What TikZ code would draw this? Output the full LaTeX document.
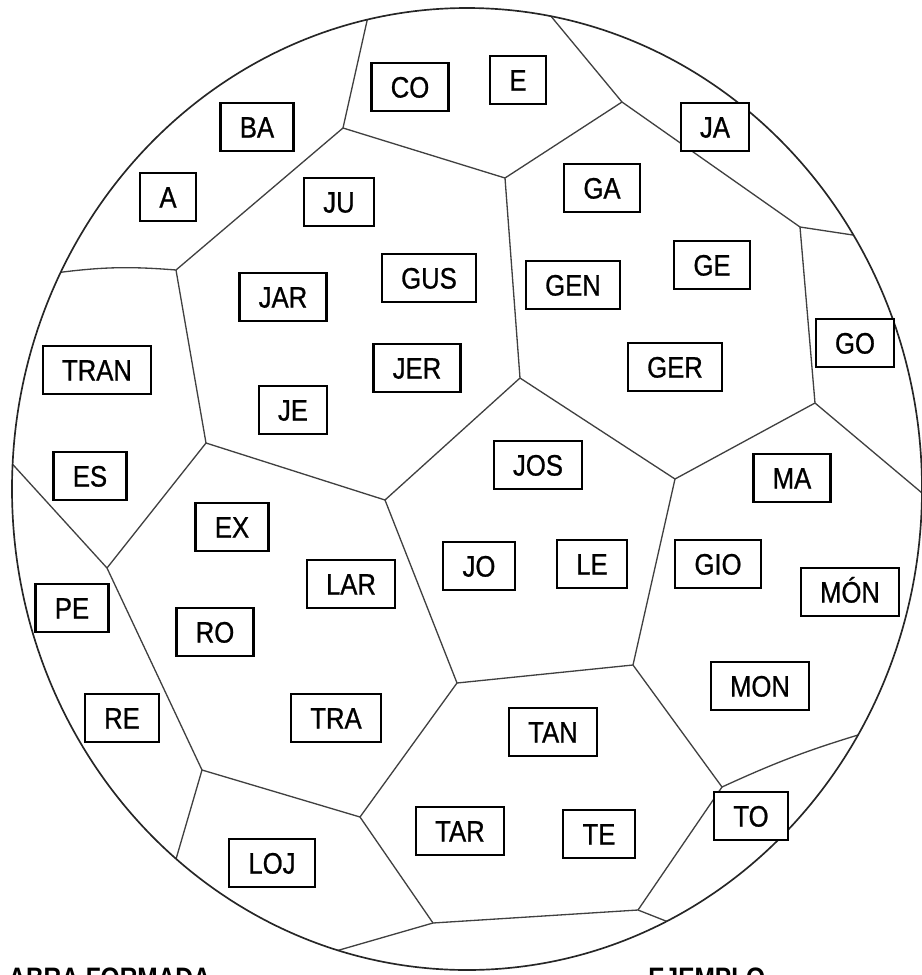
\documentclass[tikz,border=0pt]{standalone}
\usepackage{fontspec}
\setmainfont{Liberation Sans}
\newfontfamily\sylfont[FakeStretch=0.87, FakeBold=0.8]{Liberation Sans}
\newfontfamily\capfont[FakeStretch=0.87]{Liberation Sans}
\usetikzlibrary{calc}
\tikzset{
  syl/.style={rectangle, draw, line width=1.3pt, fill=white, font=\sylfont\fontsize{16.8}{18}\selectfont, minimum height=27pt, inner xsep=11pt, text height=12pt, text depth=0pt},
  seam/.style={draw=black!75, line width=0.75pt},
  rim/.style={draw=black!85, line width=0.95pt},
  caption/.style={font=\capfont\bfseries\fontsize{16}{18}\selectfont, inner sep=0pt, anchor=base west}
}

\begin{document}
\begin{tikzpicture}[x=0.2mm, y=-0.2mm]
\useasboundingbox (0,0) rectangle (922,975);

% panel corners
\coordinate (v1) at (343,128);
\coordinate (v2) at (505,178);
\coordinate (v3) at (176,270);
\coordinate (v4) at (206,443);
\coordinate (v5) at (385,500);
\coordinate (v6) at (520,378);
\coordinate (v7) at (107,568);
\coordinate (v8) at (202,770);
\coordinate (v9) at (360,817);
\coordinate (v10) at (457,683);
\coordinate (v11) at (633,665);
\coordinate (v12) at (433,923);
\coordinate (v13) at (638,910);
\coordinate (v14) at (722,787);
\coordinate (v15) at (675,479);
\coordinate (v16) at (815,403);
\coordinate (v17) at (800,227);
\coordinate (v18) at (622,102);
% seam ends just past the rim
\coordinate (r1) at (369,12);
\coordinate (r2) at (55,273);
\coordinate (r3) at (6,457);
\coordinate (r4) at (174,866);
\coordinate (r5) at (322,955);
\coordinate (r6) at (676,925);
\coordinate (r7) at (868,732);
\coordinate (r8) at (928,498);
\coordinate (r9) at (866,237);
\coordinate (r10) at (545,9);

\begin{scope}
\clip (467,489) ellipse [x radius=455, y radius=481];
\draw[seam] (v1) -- (r1);
\draw[seam] (v1) -- (v2);
\draw[seam] (v1) -- (v3);
\draw[seam] (v3) to[bend right=6] (r2);
\draw[seam] (v3) -- (v4);
\draw[seam] (v4) -- (v5);
\draw[seam] (v4) -- (v7);
\draw[seam] (v7) -- (r3);
\draw[seam] (v7) -- (v8);
\draw[seam] (v8) -- (r4);
\draw[seam] (v8) -- (v9);
\draw[seam] (v9) -- (v10);
\draw[seam] (v9) -- (v12);
\draw[seam] (v12) -- (r5);
\draw[seam] (v12) -- (v13);
\draw[seam] (v13) -- (r6);
\draw[seam] (v13) -- (v14);
\draw[seam] (v14) to[bend left=4] (r7);
\draw[seam] (v14) -- (v11);
\draw[seam] (v11) -- (v10);
\draw[seam] (v11) -- (v15);
\draw[seam] (v15) -- (v6);
\draw[seam] (v15) -- (v16);
\draw[seam] (v16) -- (r8);
\draw[seam] (v16) -- (v17);
\draw[seam] (v17) -- (r9);
\draw[seam] (v17) -- (v18);
\draw[seam] (v18) -- (r10);
\draw[seam] (v18) -- (v2);
\draw[seam] (v2) -- (v6);
\draw[seam] (v6) -- (v5);
\draw[seam] (v5) -- (v10);
\end{scope}
\draw[rim] (467,489) ellipse [x radius=455, y radius=481];

% syllables
\node[syl] (co) at (410,87) {CO};
\node[syl] (e) at (518,80) {E};
\node[syl] (ba) at (257,127) {BA};
\node[syl] (ja) at (715,127) {JA};
\node[syl] (a) at (168,197) {A};
\node[syl] (ju) at (339,202) {JU};
\node[syl] (ga) at (602,188) {GA};
\node[syl] (gus) at (429,278) {GUS};
\node[syl] (jar) at (283,297) {JAR};
\node[syl] (gen) at (573,285) {GEN};
\node[syl] (ge) at (712,265) {GE};
\node[syl] (go) at (855,343) {GO};
\node[syl] (tran) at (97,370) {TRAN};
\node[syl] (jer) at (417,368) {JER};
\node[syl] (ger) at (675,367) {GER};
\node[syl] (je) at (293,410) {JE};
\node[syl] (es) at (90,476) {ES};
\node[syl] (jos) at (538,465) {JOS};
\node[syl] (ma) at (792,478) {MA};
\node[syl] (ex) at (232,527) {EX};
\node[syl] (jo) at (479,566) {JO};
\node[syl] (le) at (592,564) {LE};
\node[syl] (gio) at (718,564) {GIO};
\node[syl] (lar) at (351,584) {LAR};
\node[syl] (mon2) at (850,592) {MÓN};
\node[syl] (pe) at (72,608) {PE};
\node[syl] (ro) at (215,632) {RO};
\node[syl] (mon) at (760,686) {MON};
\node[syl] (re) at (122,718) {RE};
\node[syl] (tra) at (336,718) {TRA};
\node[syl] (tan) at (553,732) {TAN};
\node[syl] (to) at (751,816) {TO};
\node[syl] (tar) at (460,831) {TAR};
\node[syl] (te) at (599,834) {TE};
\node[syl] (loj) at (272,863) {LOJ};

\node[caption] (formed) at (8,987) {ABRA FORMADA};
\node[caption] (sample) at (648,987) {EJEMPLO};
\end{tikzpicture}
\end{document}
